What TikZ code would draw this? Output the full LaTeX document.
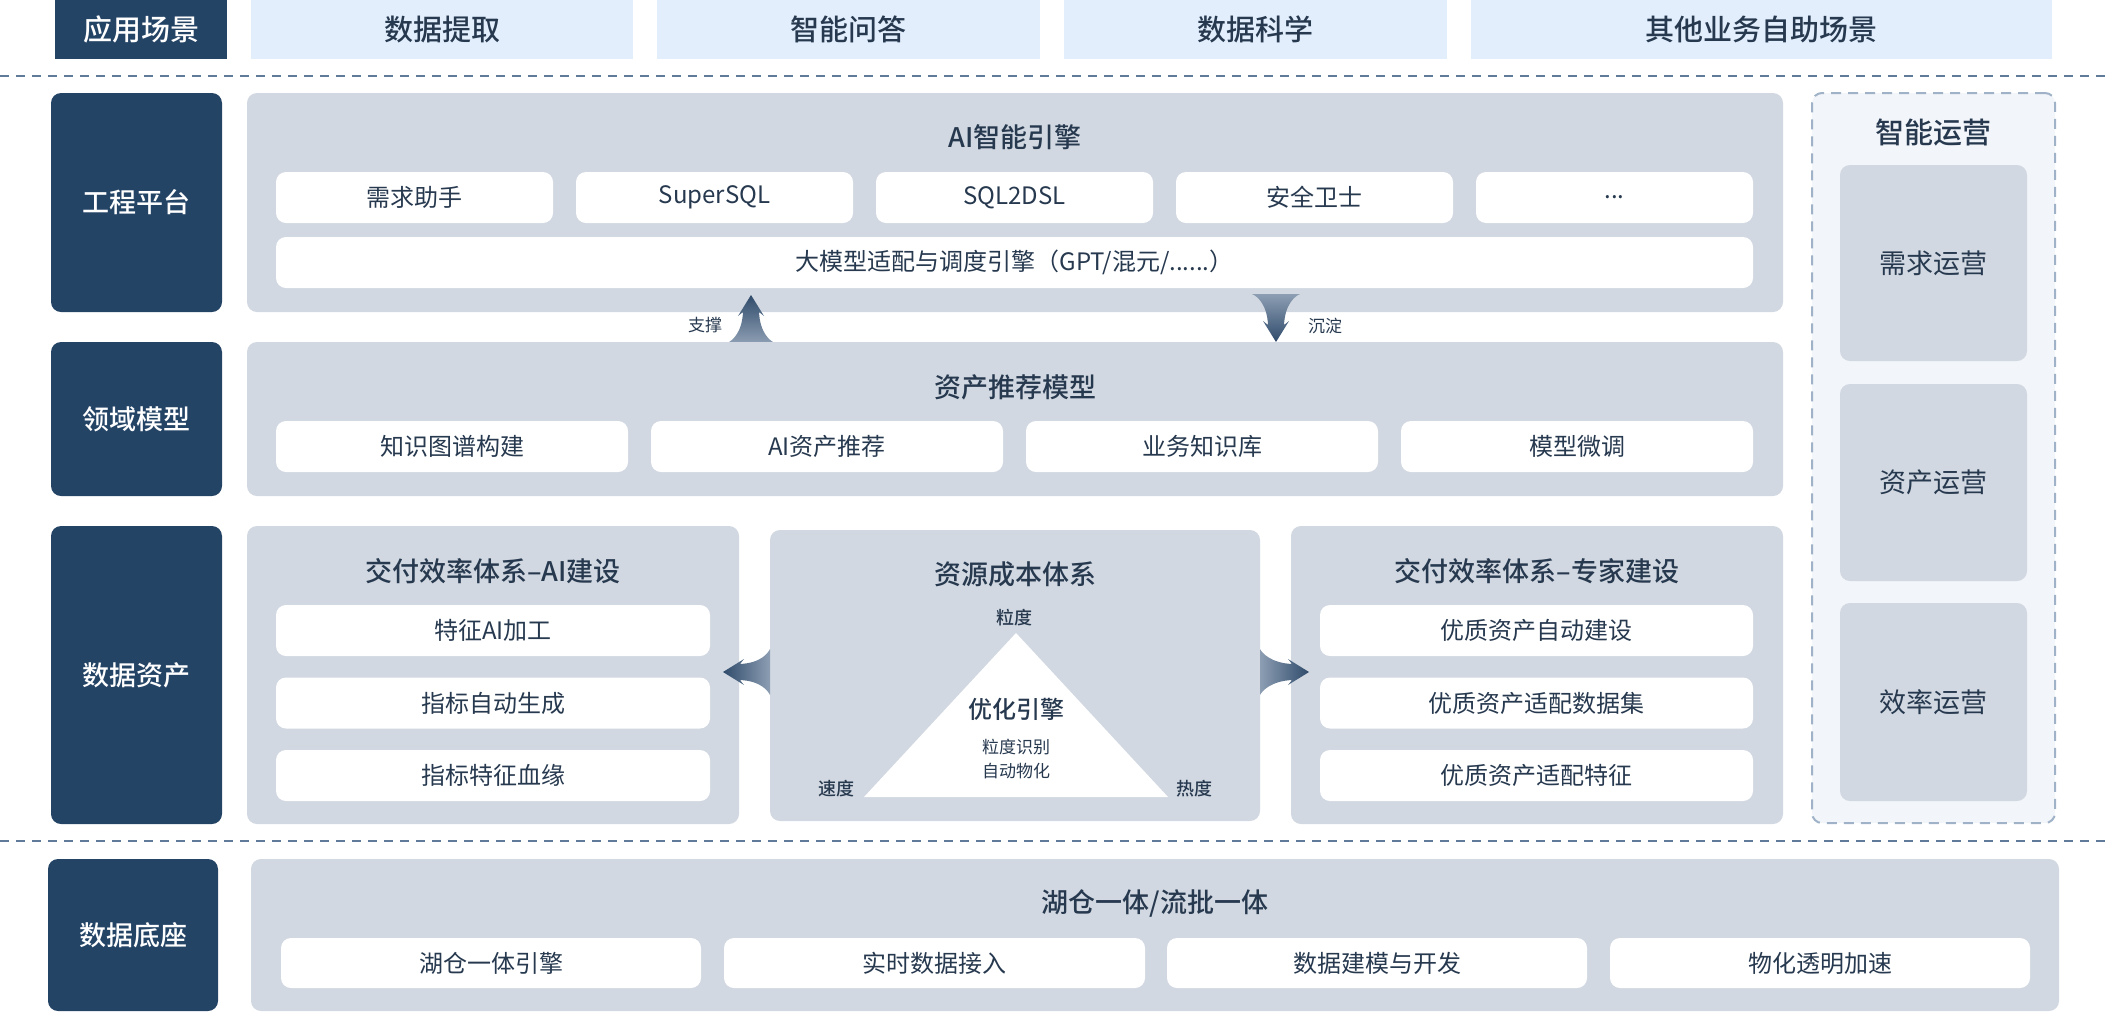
\documentclass[tikz,border=0pt]{standalone}
\usepackage{fontspec}
\setmainfont{Noto Sans CJK SC}[BoldFont={Noto Sans CJK SC Medium}]
\definecolor{navy}{HTML}{244466}
\definecolor{gboxc}{HTML}{D1D8E1}
\definecolor{lblue}{HTML}{E2EEFC}
\definecolor{opsbg}{HTML}{F2F5F9}
\definecolor{opsline}{HTML}{9FB2C7}
\definecolor{txt}{HTML}{27394F}
\definecolor{sepline}{HTML}{5F7B99}
\definecolor{arrdark}{HTML}{2F4B6B}
\definecolor{arrlight}{HTML}{8D9EB3}
\tikzset{
  topdark/.style={fill=navy, text=white, font=\fontsize{29}{34}\selectfont\bfseries, minimum height=59pt, inner sep=0pt},
  toplight/.style={fill=lblue, text=txt, font=\fontsize{29}{34}\selectfont\bfseries, minimum height=59pt, inner sep=0pt},
  sidebox/.style={fill=navy, rounded corners=10pt, text=white, font=\fontsize{27}{32}\selectfont\bfseries, minimum width=171pt, inner sep=0pt},
  panel/.style={fill=gboxc, rounded corners=10pt, inner sep=0pt},
  card/.style={fill=white, rounded corners=10pt, text=txt, font=\fontsize{24}{28}\selectfont, minimum height=51pt, inner sep=0pt},
  paneltitle/.style={text=txt, font=\fontsize{27}{32}\selectfont\bfseries, inner sep=0pt},
  opscard/.style={fill=gboxc, rounded corners=10pt, text=txt, font=\fontsize{27}{32}\selectfont, minimum width=187pt, inner sep=0pt},
  lbl/.style={text=txt, font=\fontsize{17}{20}\selectfont, inner sep=0pt},
  sublbl/.style={text=txt, font=\fontsize{17}{20}\selectfont, inner sep=0pt},
  sepdash/.style={draw=sepline, line width=2pt, dash pattern=on 9pt off 7pt},
}
\begin{document}
\begin{tikzpicture}[x=1pt,y=-1pt]
\useasboundingbox (0,0) rectangle (2108,1013);

% ---------- top row ----------
\node[topdark, minimum width=172pt] (scene) at (141,29.5) {应用场景};
\node[toplight, minimum width=382pt] (s1) at (442,29.5) {数据提取};
\node[toplight, minimum width=383pt] (s2) at (848.5,29.5) {智能问答};
\node[toplight, minimum width=383pt] (s3) at (1255.5,29.5) {数据科学};
\node[toplight, minimum width=581pt] (s4) at (1761.5,29.5) {其他业务自助场景};

\coordinate (sepA1) at (0,76);
\coordinate (sepA2) at (2108,76);
\draw[sepdash] (sepA1) -- (sepA2);
\coordinate (sepB1) at (0,841);
\coordinate (sepB2) at (2108,841);
\draw[sepdash] (sepB1) -- (sepB2);

% ---------- row 1: 工程平台 ----------
\node[sidebox, minimum height=219pt] (eng) at (136.5,202.5) {工程平台};
\node[panel, minimum width=1536pt, minimum height=219pt] (aip) at (1015,202.5) {};
\node[paneltitle] (aiptitle) at (1015,137) {AI智能引擎};
\node[card, minimum width=277pt] (c11) at (414.5,197.5) {需求助手};
\node[card, minimum width=277pt] (c12) at (714.5,197.5) {SuperSQL};
\node[card, minimum width=277pt] (c13) at (1014.5,197.5) {SQL2DSL};
\node[card, minimum width=277pt] (c14) at (1314.5,197.5) {安全卫士};
\node[card, minimum width=277pt] (c15) at (1614.5,197.5) {...};
\node[card, minimum width=1477pt] (c16) at (1014.5,262.5) {大模型适配与调度引擎（GPT/混元/......）};

% arrows between row 1 and row 2
\shade[top color=arrdark, bottom color=arrlight]
  (751,295) -- (764,316) -- (759,312) .. controls (760,333) and (770,341) .. (775,343)
  -- (727,343) .. controls (732,341) and (742,333) .. (743,312) -- (738,316) -- cycle;
\node[lbl] (upl) at (705,325) {支撑};
\shade[top color=arrlight, bottom color=arrdark]
  (1276,342) -- (1289,321) -- (1284,325) .. controls (1285,304) and (1295,296) .. (1300,294)
  -- (1252,294) .. controls (1257,296) and (1267,304) .. (1268,325) -- (1263,321) -- cycle;
\node[lbl] (downl) at (1325,326) {沉淀};

% ---------- row 2: 领域模型 ----------
\node[sidebox, minimum height=154pt] (dom) at (136.5,419) {领域模型};
\node[panel, minimum width=1536pt, minimum height=154pt] (rec) at (1015,419) {};
\node[paneltitle] (rectitle) at (1015,387) {资产推荐模型};
\node[card, minimum width=352pt] (c21) at (452,446.5) {知识图谱构建};
\node[card, minimum width=352pt] (c22) at (827,446.5) {AI资产推荐};
\node[card, minimum width=352pt] (c23) at (1202,446.5) {业务知识库};
\node[card, minimum width=352pt] (c24) at (1577,446.5) {模型微调};

% ---------- row 3: 数据资产 ----------
\node[sidebox, minimum height=298pt] (asset) at (136.5,675) {数据资产};
\node[panel, minimum width=492pt, minimum height=298pt] (ai) at (493,675) {};
\node[paneltitle] (aititle) at (493,571) {交付效率体系–AI建设};
\node[card, minimum width=434pt] (c31) at (493,630.5) {特征AI加工};
\node[card, minimum width=434pt] (c32) at (493,703) {指标自动生成};
\node[card, minimum width=434pt] (c33) at (493,775.5) {指标特征血缘};

\node[panel, minimum width=490pt, minimum height=291pt] (cost) at (1015,675.5) {};
\node[paneltitle] (costtitle) at (1015,574) {资源成本体系};
\coordinate (triA) at (1016,633);
\coordinate (triB) at (864,797);
\coordinate (triC) at (1168,797);
\fill[white] (triA) -- (triB) -- (triC) -- cycle;
\node[lbl, font=\fontsize{18}{21}\selectfont\bfseries] (g1) at (1014,618) {粒度};
\node[lbl, font=\fontsize{18}{21}\selectfont\bfseries] (g2) at (836,789) {速度};
\node[lbl, font=\fontsize{18}{21}\selectfont\bfseries] (g3) at (1194,789) {热度};
\node[text=txt, font=\fontsize{24}{28}\selectfont\bfseries, inner sep=0pt] (opt) at (1016,709) {优化引擎};
\node[sublbl] (opt1) at (1016,747) {粒度识别};
\node[sublbl] (opt2) at (1016,771) {自动物化};

\node[panel, minimum width=492pt, minimum height=298pt] (exp) at (1537,675) {};
\node[paneltitle] (exptitle) at (1537,571) {交付效率体系–专家建设};
\node[card, minimum width=433pt] (c41) at (1536.5,630.5) {优质资产自动建设};
\node[card, minimum width=433pt] (c42) at (1536.5,703) {优质资产适配数据集};
\node[card, minimum width=433pt] (c43) at (1536.5,775.5) {优质资产适配特征};

% side arrows
\shade[left color=arrdark, right color=arrlight]
  (723,672) -- (744,685) -- (740,680) .. controls (761,681) and (768,691) .. (770,695)
  -- (770,649) .. controls (768,653) and (761,663) .. (740,664) -- (744,659) -- cycle;
\shade[left color=arrlight, right color=arrdark]
  (1309,672) -- (1288,685) -- (1292,680) .. controls (1271,681) and (1262,691) .. (1260,695)
  -- (1260,649) .. controls (1262,653) and (1271,663) .. (1292,664) -- (1288,659) -- cycle;

% ---------- 智能运营 ----------
\node[fill=opsbg, draw=opsline, line width=2pt, dash pattern=on 10pt off 7pt, rounded corners=10pt,
      minimum width=243pt, minimum height=730pt, inner sep=0pt] (ops) at (1933.5,458) {};
\node[paneltitle, font=\fontsize{29}{34}\selectfont\bfseries] (opstitle) at (1933.5,133) {智能运营};
\node[opscard, minimum height=196pt] (o1) at (1933.5,263) {需求运营};
\node[opscard, minimum height=197pt] (o2) at (1933.5,482.5) {资产运营};
\node[opscard, minimum height=198pt] (o3) at (1933.5,702) {效率运营};

% ---------- row 4: 数据底座 ----------
\node[sidebox, minimum width=170pt, minimum height=152pt] (base) at (133,935) {数据底座};
\node[panel, minimum width=1808pt, minimum height=152pt] (lake) at (1155,935) {};
\node[paneltitle] (laketitle) at (1155,903) {湖仓一体/流批一体};
\node[card, minimum width=420pt, minimum height=50pt] (c51) at (491,963) {湖仓一体引擎};
\node[card, minimum width=421pt, minimum height=50pt] (c52) at (934.5,963) {实时数据接入};
\node[card, minimum width=420pt, minimum height=50pt] (c53) at (1377,963) {数据建模与开发};
\node[card, minimum width=420pt, minimum height=50pt] (c54) at (1820,963) {物化透明加速};
\end{tikzpicture}
\end{document}
